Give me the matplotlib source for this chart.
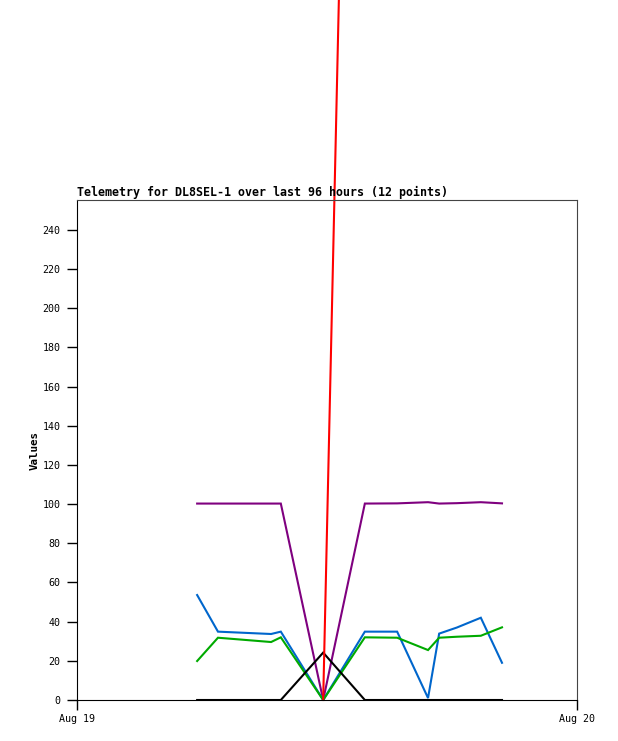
import numpy as np
import pandas as pd
import matplotlib

matplotlib.use("Agg")
import matplotlib.pyplot as plt
import matplotlib.dates as mdates

# sample times (Aug 19)
times = ["05:46", "06:46", "09:19", "09:47", "11:49", "13:49",
         "15:22", "16:51", "17:23", "18:14", "19:23", "20:24"]
purple = [100.3, 100.3, 100.3, 100.3, 0.0, 100.3, 100.4, 101.0, 100.3, 100.5, 101.0, 100.4]
blue = [53.6, 34.9, 33.7, 34.9, 0.0, 34.9, 34.9, 1.0, 33.9, 37.0, 42.0, 19.0]
green = [19.9, 31.8, 29.6, 32.0, 0.0, 32.0, 31.8, 25.5, 31.8, 32.3, 32.8, 37.1]
black = [0, 0, 0, 0, 24.2, 0, 0, 0, 0, 0, 0, 0]
red = [np.nan, np.nan, np.nan, np.nan, 0.0, 950, 950, 950, 950, 950, 950, 950]

title = "Telemetry for DL8SEL-1 over last 96 hours (12 points)"
mono = "DejaVu Sans Mono"

x = pd.to_datetime(["2024-08-19 " + t for t in times])

fig = plt.figure(figsize=(6.18, 7.41), dpi=100)
ax = fig.add_axes([77 / 618, 41 / 741, 500 / 618, 500 / 741])

series = [(purple, "#7f007f"), (blue, "#0066cc"), (green, "#00aa00"),
          (black, "#000000")]
for vals, col in series:
    ax.plot(x, vals, color=col, lw=1.5, solid_joinstyle="miter")
ax.plot(x, red, color="#ff0000", lw=1.5, clip_on=False)

ax.set_xlim(pd.Timestamp("2024-08-19"), pd.Timestamp("2024-08-20"))
ax.set_ylim(0, 255.3)
ax.set_yticks(np.arange(0, 241, 20))
ax.xaxis.set_major_locator(mdates.DayLocator())
ax.xaxis.set_major_formatter(mdates.DateFormatter("%b %d"))

ax.tick_params(length=7, width=1, pad=5, labelsize=7.2)
ax.tick_params(axis="x", pad=3)
for lab in ax.get_xticklabels() + ax.get_yticklabels():
    lab.set_fontfamily(mono)
for side in ("top", "right"):
    ax.spines[side].set_color("#444444")
ax.set_ylabel("Values", fontfamily=mono, fontweight="bold", fontsize=7.8, labelpad=2)
ax.set_title(title, loc="left", fontfamily=mono, fontweight="bold", fontsize=8.35, pad=3)

fig.savefig("out.png", dpi=100)
